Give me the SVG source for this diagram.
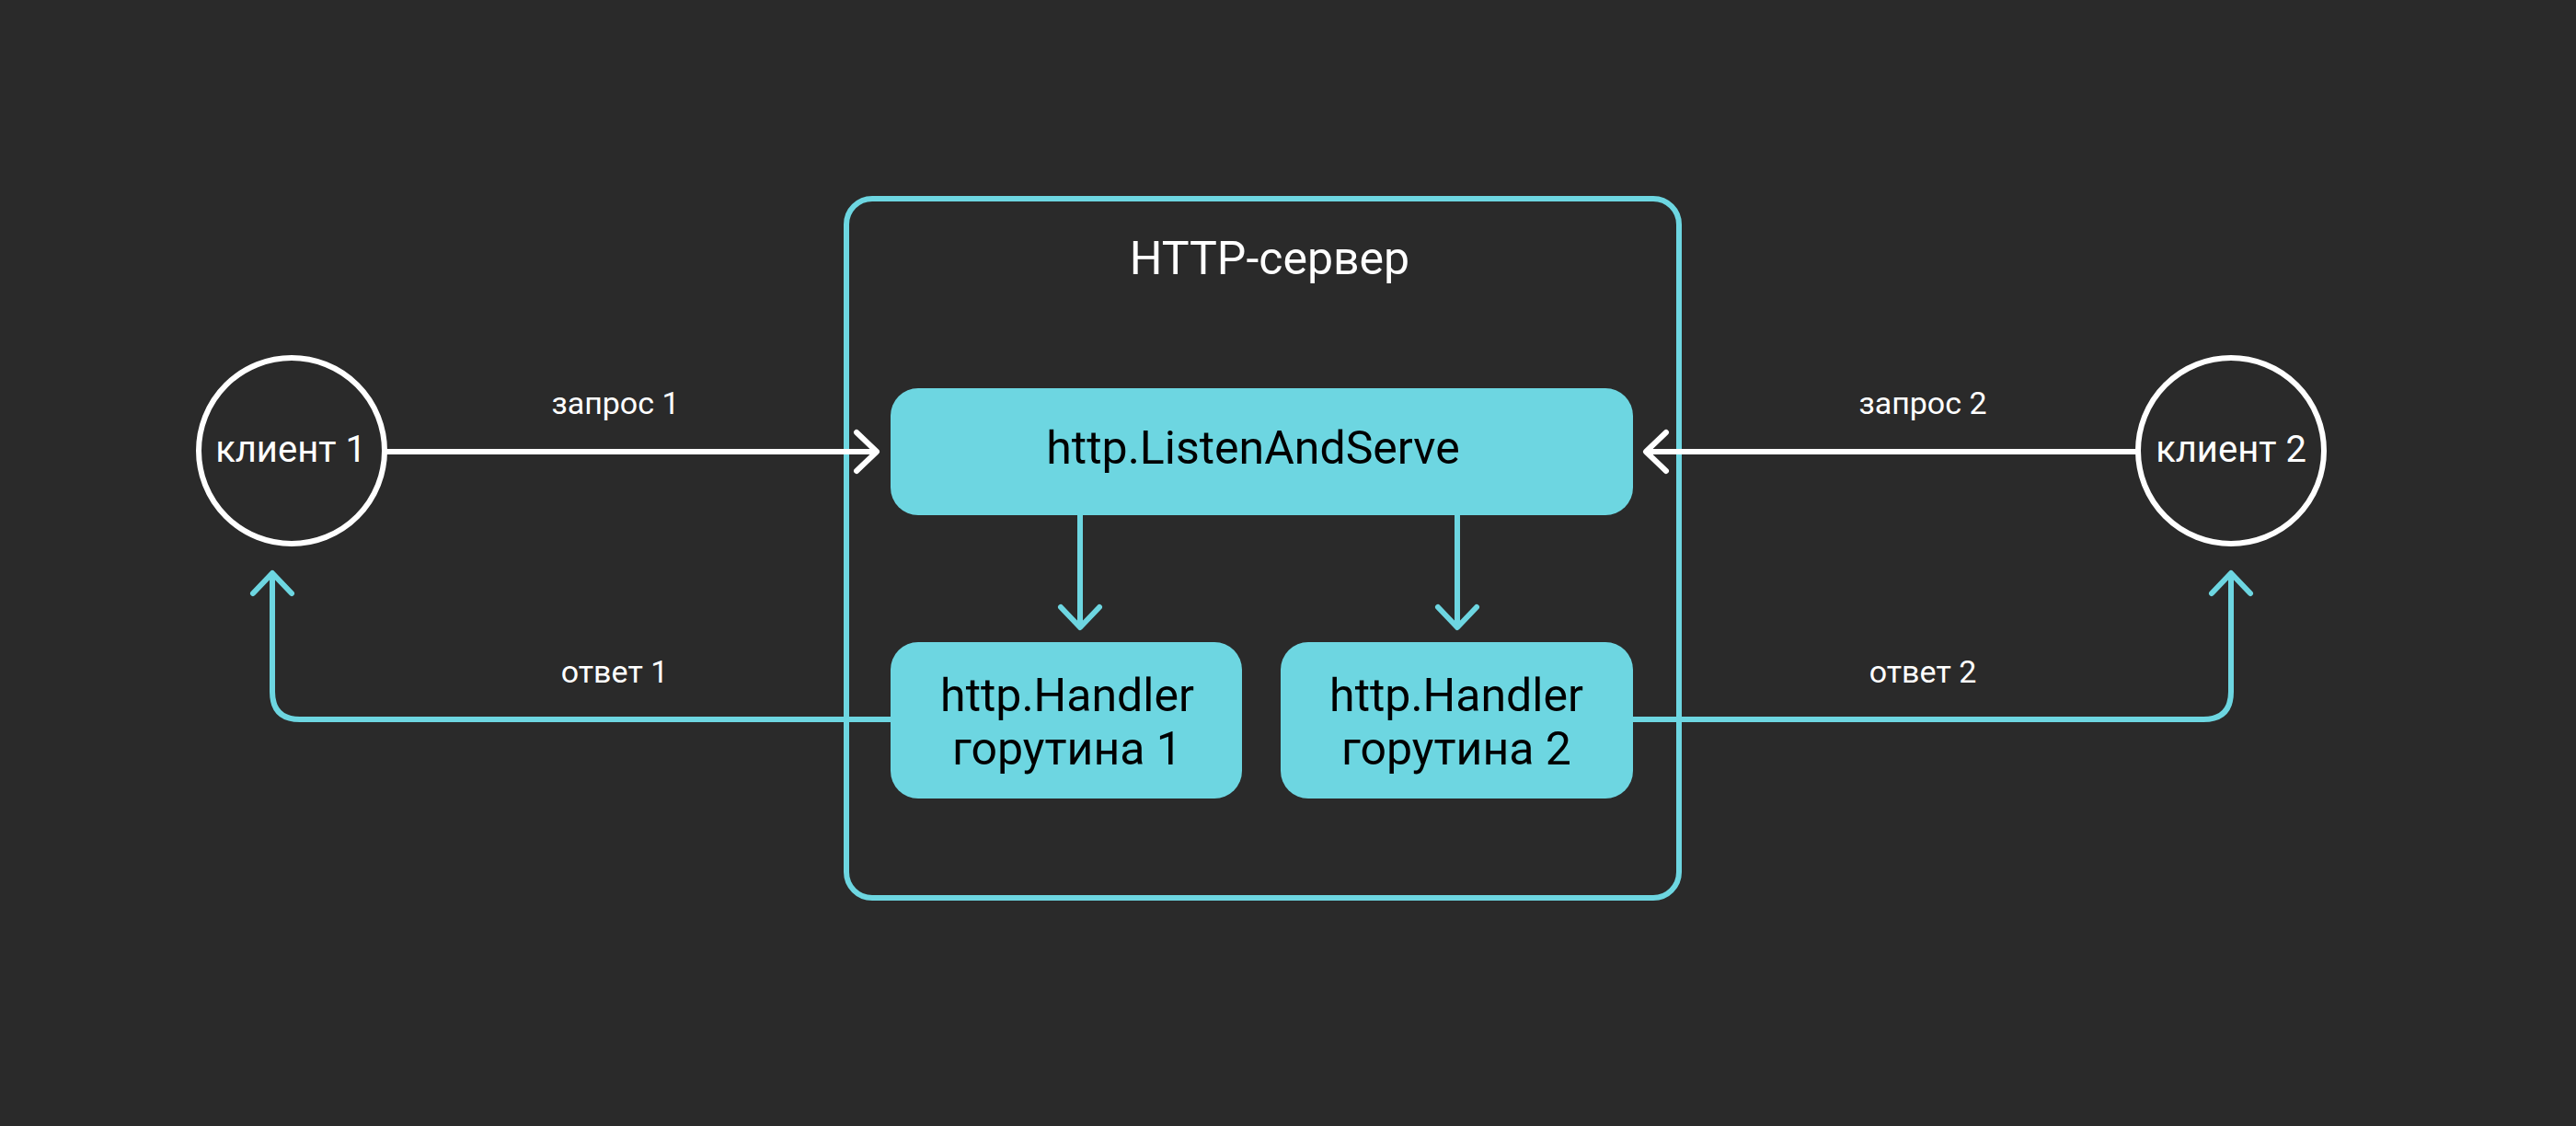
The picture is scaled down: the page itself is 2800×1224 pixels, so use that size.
<svg xmlns="http://www.w3.org/2000/svg" width="2800" height="1224" viewBox="0 0 2800 1224">
  <style>
    .bg { fill: #2a2a2a; }
    .client { fill: none; stroke: #ffffff; stroke-width: 6; }
    .server { fill: none; stroke: #6dd6e1; stroke-width: 6; }
    .box { fill: #6dd6e1; }
    .t { font-family: Roboto, "Liberation Sans", sans-serif; text-anchor: middle; }
    .white { fill: #ffffff; }
    .dark { fill: #000000; }
    .lbl { font-size: 34px; }
    .req { fill: none; stroke: #ffffff; stroke-width: 6; }
    .resp { fill: none; stroke: #6dd6e1; stroke-width: 6; }
  </style>
  <defs>
    <marker id="ahW" markerUnits="userSpaceOnUse" viewBox="-30 -26 34 52" refX="0" refY="0" markerWidth="34" markerHeight="52" orient="auto" overflow="visible">
      <path d="M-22,-21 L0,0 L-22,21" fill="none" stroke="#ffffff" stroke-width="6" stroke-linecap="round" stroke-linejoin="round"/>
    </marker>
    <marker id="ahC" markerUnits="userSpaceOnUse" viewBox="-30 -26 34 52" refX="0" refY="0" markerWidth="34" markerHeight="52" orient="auto" overflow="visible">
      <path d="M-22,-21 L0,0 L-22,21" fill="none" stroke="#6dd6e1" stroke-width="6" stroke-linecap="round" stroke-linejoin="round"/>
    </marker>
  </defs>
  <rect class="bg" x="0" y="0" width="2800" height="1224"/>

  <g id="server">
    <rect class="server" x="920" y="216" width="905" height="760" rx="28" ry="28"/>
    <text class="t white" x="1380" y="298" font-size="50">HTTP-сервер</text>
  </g>

  <g id="listen">
    <rect class="box" x="968" y="422" width="807" height="138" rx="30" ry="30"/>
    <text class="t dark" x="1362" y="504" font-size="50">http.ListenAndServe</text>
  </g>

  <g id="handler1">
    <rect class="box" x="968" y="698" width="382" height="170" rx="30" ry="30"/>
    <text class="t dark" x="1160" y="773" font-size="50">http.Handler</text>
    <text class="t dark" x="1160" y="831" font-size="50">горутина 1</text>
  </g>

  <g id="handler2">
    <rect class="box" x="1392" y="698" width="383" height="170" rx="30" ry="30"/>
    <text class="t dark" x="1583" y="773" font-size="50">http.Handler</text>
    <text class="t dark" x="1583" y="831" font-size="50">горутина 2</text>
  </g>

  <g id="client1">
    <circle class="client" cx="317" cy="490" r="101"/>
    <text class="t white" x="316" y="502" font-size="40">клиент 1</text>
  </g>

  <g id="client2">
    <circle class="client" cx="2425" cy="490" r="101"/>
    <text class="t white" x="2425" y="502" font-size="40">клиент 2</text>
  </g>

  <g id="connectors">
    <line class="req" x1="418" y1="491" x2="953" y2="491" marker-end="url(#ahW)"/>
    <line class="req" x1="2324" y1="491" x2="1789" y2="491" marker-end="url(#ahW)"/>
    <line class="resp" x1="1174" y1="560" x2="1174" y2="682" marker-end="url(#ahC)"/>
    <line class="resp" x1="1584" y1="560" x2="1584" y2="682" marker-end="url(#ahC)"/>
    <path class="resp" d="M968,782 L326,782 Q296,782 296,752 L296,623" marker-end="url(#ahC)"/>
    <path class="resp" d="M1775,782 L2395,782 Q2425,782 2425,752 L2425,623" marker-end="url(#ahC)"/>
    <text class="t white lbl" x="669" y="450">запрос 1</text>
    <text class="t white lbl" x="668" y="742">ответ 1</text>
    <text class="t white lbl" x="2090" y="450">запрос 2</text>
    <text class="t white lbl" x="2090" y="742">ответ 2</text>
  </g>
</svg>
